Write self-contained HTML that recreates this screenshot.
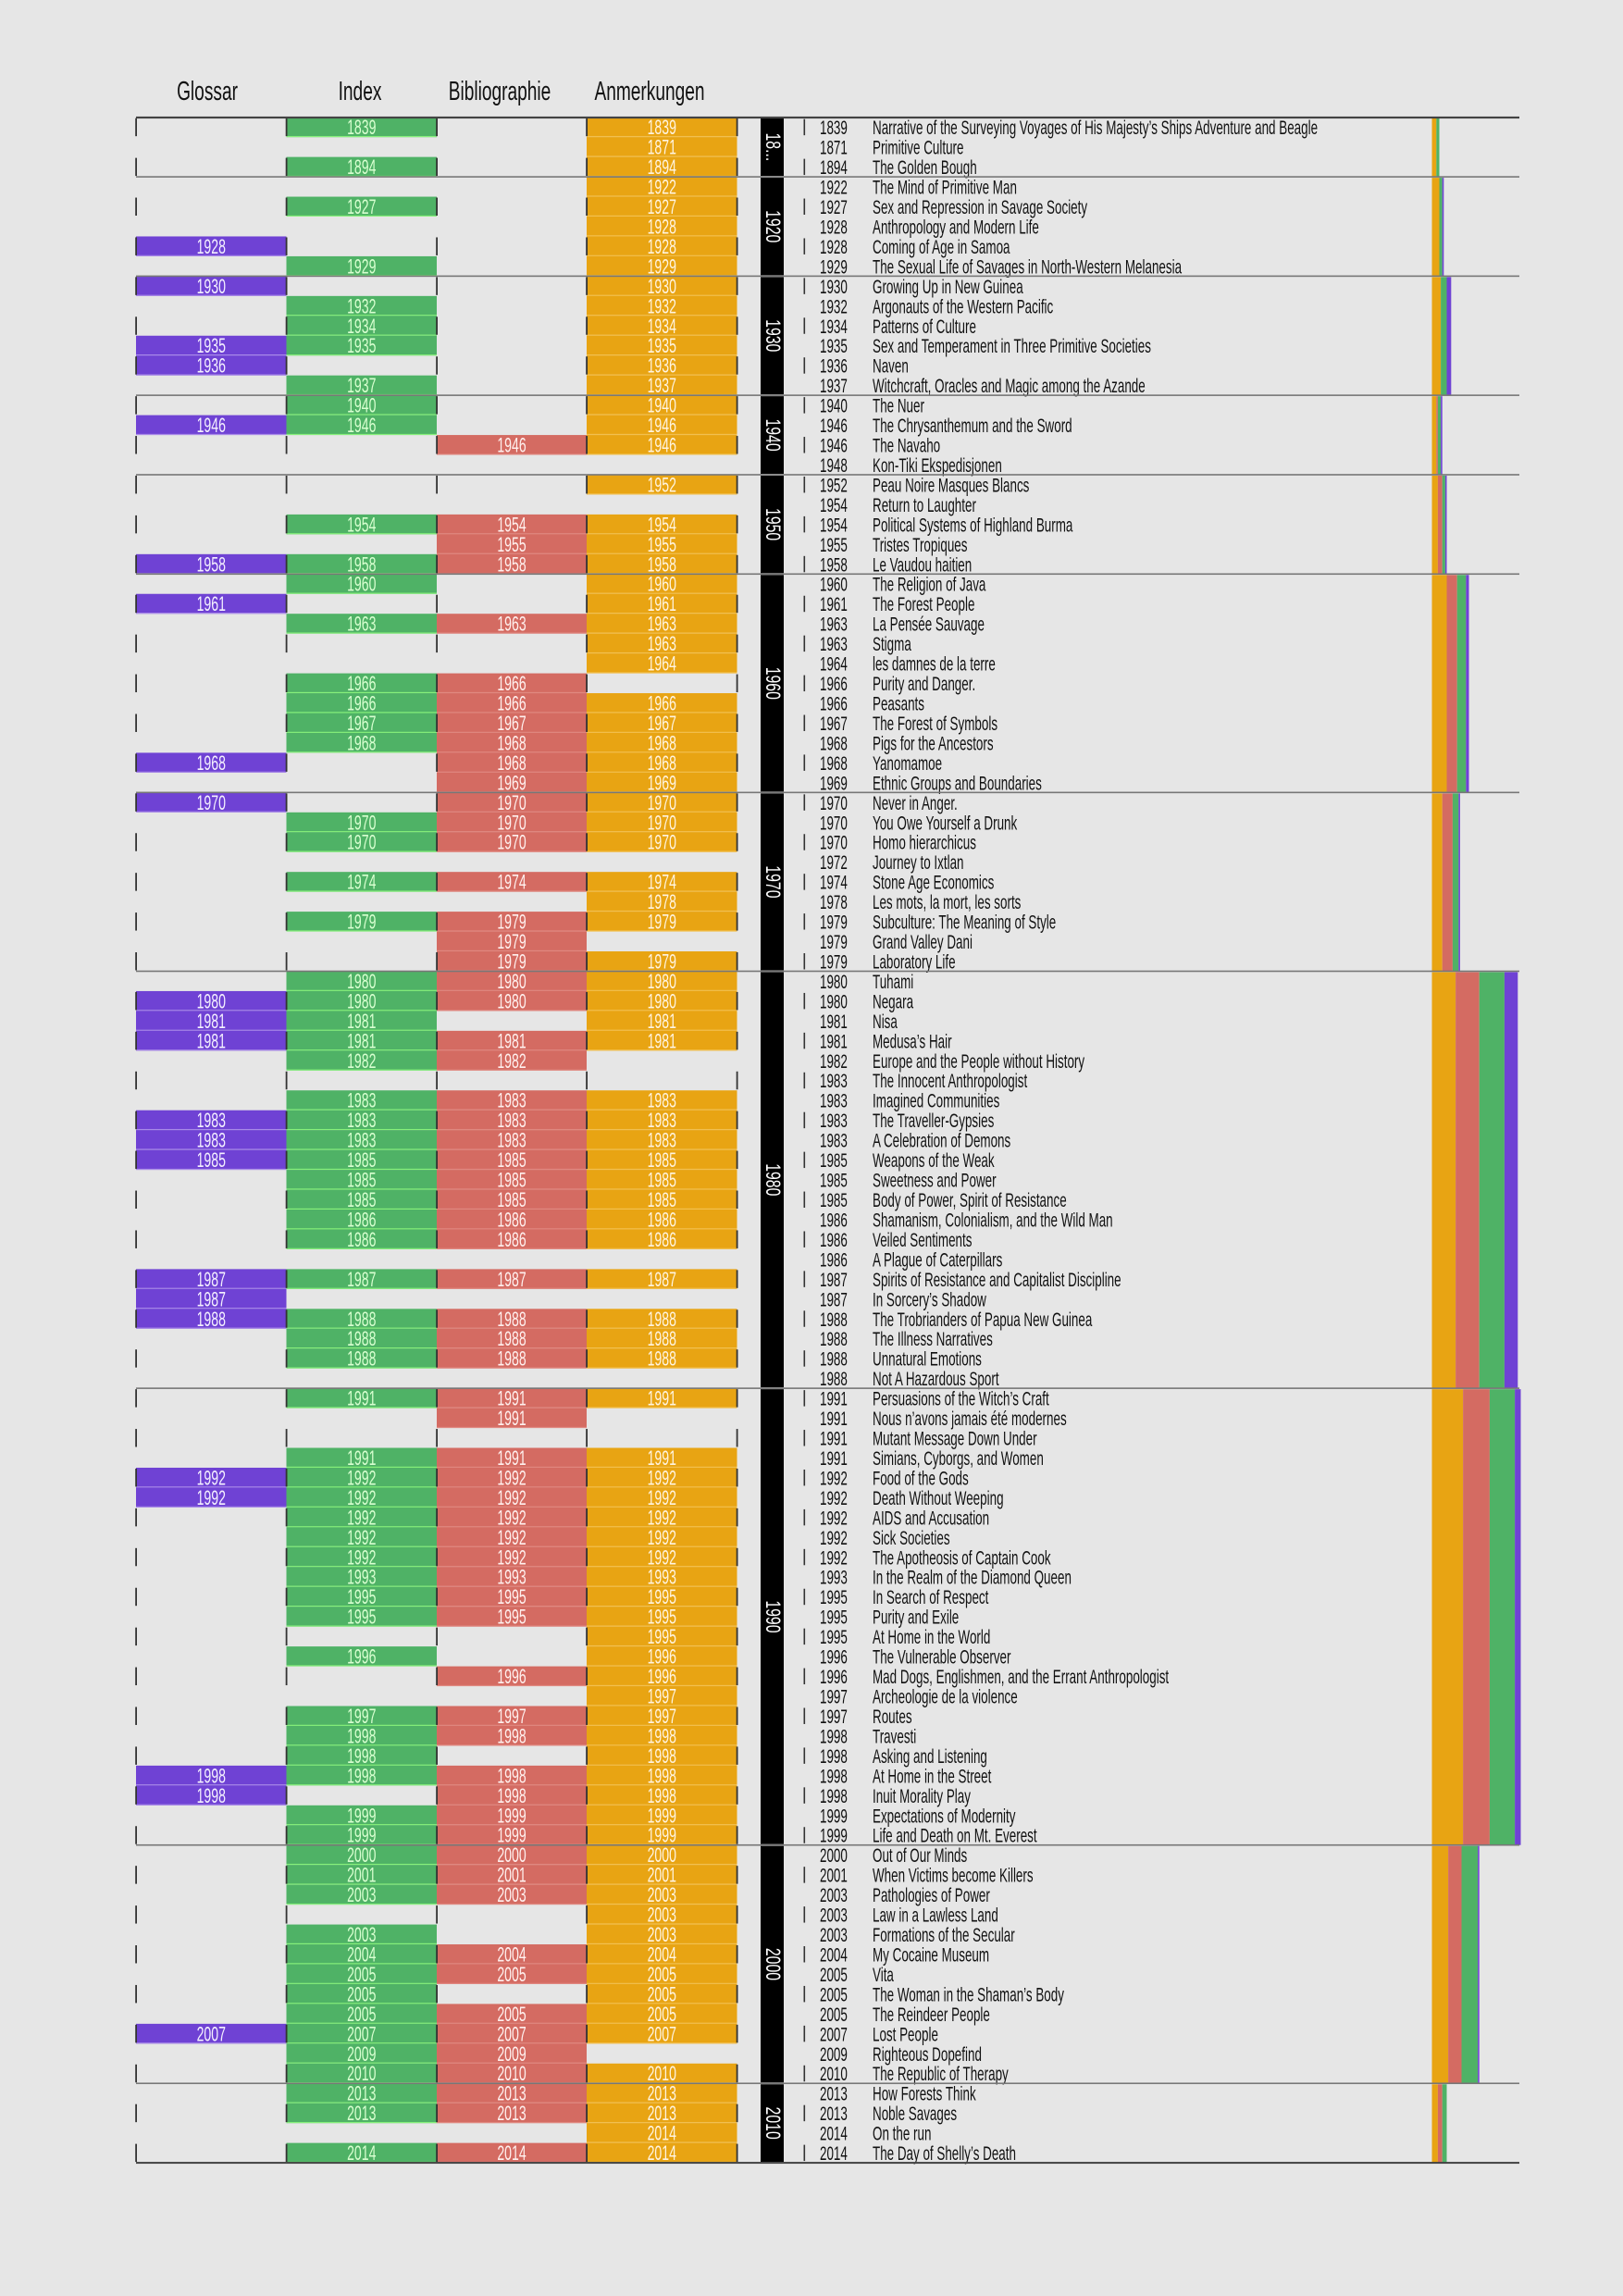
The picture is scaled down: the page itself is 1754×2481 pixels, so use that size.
<!DOCTYPE html>
<html><head><meta charset="utf-8">
<style>
html,body{margin:0;padding:0;background:#e6e6e6;}
svg{display:block;}
text{font-family:"Liberation Sans Narrow","Liberation Sans",sans-serif;}
</style></head>
<body>
<svg id="chart" width="1754" height="2481" viewBox="0 0 1754 2481" xmlns="http://www.w3.org/2000/svg">
<rect width="1754" height="2481" fill="#e6e6e6"/>
<g id="headers" font-size="29" fill="#111">
<text transform="translate(224,108) scale(0.66,1)" text-anchor="middle">Glossar</text>
<text transform="translate(389,108) scale(0.66,1)" text-anchor="middle">Index</text>
<text transform="translate(540,108) scale(0.66,1)" text-anchor="middle">Bibliographie</text>
<text transform="translate(702,108) scale(0.66,1)" text-anchor="middle">Anmerkungen</text>
</g>
<g id="layer"></g>
</svg>
<script>
const years=[1839,1871,1894,1922,1927,1928,1928,1929,1930,1932,1934,1935,1936,1937,1940,1946,1946,1948,1952,1954,1954,1955,1958,1960,1961,1963,1963,1964,1966,1966,1967,1968,1968,1969,1970,1970,1970,1972,1974,1978,1979,1979,1979,1980,1980,1981,1981,1982,1983,1983,1983,1983,1985,1985,1985,1986,1986,1986,1987,1987,1988,1988,1988,1988,1991,1991,1991,1991,1992,1992,1992,1992,1992,1993,1995,1995,1995,1996,1996,1997,1997,1998,1998,1998,1998,1999,1999,2000,2001,2003,2003,2003,2004,2005,2005,2005,2007,2009,2010,2013,2013,2014,2014];
const titles=["Narrative of the Surveying Voyages of His Majesty’s Ships Adventure and Beagle","Primitive Culture","The Golden Bough","The Mind of Primitive Man","Sex and Repression in Savage Society","Anthropology and Modern Life","Coming of Age in Samoa","The Sexual Life of Savages in North-Western Melanesia","Growing Up in New Guinea","Argonauts of the Western Pacific","Patterns of Culture","Sex and Temperament in Three Primitive Societies","Naven","Witchcraft, Oracles and Magic among the Azande","The Nuer","The Chrysanthemum and the Sword","The Navaho","Kon-Tiki Ekspedisjonen","Peau Noire Masques Blancs","Return to Laughter","Political Systems of Highland Burma","Tristes Tropiques","Le Vaudou haitien","The Religion of Java","The Forest People","La Pensée Sauvage","Stigma","les damnes de la terre","Purity and Danger.","Peasants","The Forest of Symbols","Pigs for the Ancestors","Yanomamoe","Ethnic Groups and Boundaries","Never in Anger.","You Owe Yourself a Drunk","Homo hierarchicus","Journey to Ixtlan","Stone Age Economics","Les mots, la mort, les sorts","Subculture: The Meaning of Style","Grand Valley Dani","Laboratory Life","Tuhami","Negara","Nisa","Medusa’s Hair","Europe and the People without History","The Innocent Anthropologist","Imagined Communities","The Traveller-Gypsies","A Celebration of Demons","Weapons of the Weak","Sweetness and Power","Body of Power, Spirit of Resistance","Shamanism, Colonialism, and the Wild Man","Veiled Sentiments","A Plague of Caterpillars","Spirits of Resistance and Capitalist Discipline","In Sorcery’s Shadow","The Trobrianders of Papua New Guinea","The Illness Narratives","Unnatural Emotions","Not A Hazardous Sport","Persuasions of the Witch’s Craft","Nous n’avons jamais été modernes","Mutant Message Down Under","Simians, Cyborgs, and Women","Food of the Gods","Death Without Weeping","AIDS and Accusation","Sick Societies","The Apotheosis of Captain Cook","In the Realm of the Diamond Queen","In Search of Respect","Purity and Exile","At Home in the World","The Vulnerable Observer","Mad Dogs, Englishmen, and the Errant Anthropologist","Archeologie de la violence","Routes","Travesti","Asking and Listening","At Home in the Street","Inuit Morality Play","Expectations of Modernity","Life and Death on Mt. Everest","Out of Our Minds","When Victims become Killers","Pathologies of Power","Law in a Lawless Land","Formations of the Secular","My Cocaine Museum","Vita","The Woman in the Shaman’s Body","The Reindeer People","Lost People","Righteous Dopefind","The Republic of Therapy","How Forests Think","Noble Savages","On the run","The Day of Shelly’s Death"];
// per-row presence flags: Glossar, Index, Bibliographie, Anmerkungen
const rowFlags=["0101","0001","0101","0001","0101","0001","1001","0101","1001","0101",
"0101","1101","1001","0101","0101","1101","0011","0000","0001","0000",
"0111","0011","1111","0101","1001","0111","0001","0001","0110","0111",
"0111","0111","1011","0011","1011","0111","0111","0000","0111","0001",
"0111","0010","0011","0111","1111","1101","1111","0110","0000","0111",
"1111","1111","1111","0111","0111","0111","0111","0000","1111","1000",
"1111","0111","0111","0000","0111","0010","0000","0111","1111","1111",
"0111","0111","0111","0111","0111","0111","0001","0101","0011","0001",
"0111","0111","0101","1111","1011","0111","0111","0111","0111","0111",
"0001","0101","0111","0111","0101","0111","1111","0110","0111","0111",
"0111","0001","0111"];
const decadeLabels=["18...","1920","1930","1940","1950","1960","1970","1980","1990","2000","2010"];
const decadeStarts=[0,3,8,14,18,23,34,43,64,87,99];

const NS="http://www.w3.org/2000/svg";
const layer=document.getElementById('layer');
const TOP=126.7, RH=21.46, N=years.length;
const colX=[147,309.5,472,634,796.5];
const COLORS={A:"#e8a413",B:"#d46b62",I:"#4fb266",G:"#6f42d4"};
const EDGE={A:"#f2c050",B:"#e08880",I:"#86f07a",G:"#a98ae8"};
function rowY(i){return TOP+i*RH;}
function mk(tag,attrs,parent){const e=document.createElementNS(NS,tag);for(const k in attrs)e.setAttribute(k,attrs[k]);(parent||layer).appendChild(e);return e;}
function txt(x,y,s,size,fill,anchor,parent){const t=mk('text',{transform:`translate(${x},${y}) scale(0.64,1)`,'font-size':size,fill:fill,'text-anchor':anchor},parent);t.textContent=s;return t;}

const cols=[{key:'G',tc:"#f4f0ff"},{key:'I',tc:"#d8ffd0"},{key:'B',tc:"#fff0ee"},{key:'A',tc:"#fff4e0"}];
const names={G:'glossar-cell',I:'index-cell',B:'bibliographie-cell',A:'anmerkungen-cell'};

for(let i=0;i<N;i++){
  const y=rowY(i);
  const row=mk('g',{});
  
  
  cols.forEach((c,ci)=>{
    if(rowFlags[i][ci]==='1'){
      const g=mk('g',{},row);
      
      
      mk('rect',{x:colX[ci],y:y,width:colX[ci+1]-colX[ci],height:RH,fill:COLORS[c.key]},g);
      mk('rect',{x:colX[ci],y:y+RH-1.2,width:colX[ci+1]-colX[ci],height:1.2,fill:EDGE[c.key]},g);
      txt((colX[ci]+colX[ci+1])/2,y+RH-3,String(years[i]),22,c.tc,'middle',g);
    }
  });
  if(i%2===0){
    colX.forEach(x=>{mk('rect',{x:x-0.8,y:y+1,width:1.8,height:RH-2,fill:"#333"},row);});
    mk('rect',{x:868.5,y:y+2,width:1.6,height:RH-4,fill:"#333"},row);
  }
  const yt=txt(886,y+RH-3,String(years[i]),21,"#111",'start',row);
  
  
  const tt=txt(943,y+RH-3,titles[i],21,"#111",'start',row);
  
  
}

const UNIT=1.6, BX=1547.5;
const order=[['A',3],['B',2],['I',1],['G',0]];
decadeStarts.forEach((s,d)=>{
  const e=d+1<decadeStarts.length?decadeStarts[d+1]:N;
  const y0=rowY(s), y1=rowY(e);
  const bar=mk('rect',{x:822,y:y0+1,width:25,height:y1-y0-2,fill:"#000"});
  
  
  const cy=(y0+y1)/2;
  const lab=mk('text',{transform:`translate(828,${cy}) rotate(90) scale(0.72,1)`,'font-size':22,fill:"#fff",'text-anchor':'middle'});
  lab.textContent=decadeLabels[d];
  
  
  let x=BX;
  order.forEach(([k,ci])=>{
    let cnt=0;for(let i=s;i<e;i++)if(rowFlags[i][ci]==='1')cnt++;
    const w=cnt*UNIT;
    if(w>0){
      const r=mk('rect',{x:x,y:y0+1,width:w,height:y1-y0-1,fill:COLORS[k]});
      
      
    }
    x+=w;
  });
  const ln=mk('rect',{x:147,y:y0-0.8,width:1495,height:(s===0?2.2:1.6),fill:(s===0?"#444":"#777")});
  
  
});
const bl=mk('rect',{x:147,y:rowY(N)-1,width:1495,height:2,fill:"#444"});


</script>
</body></html>
